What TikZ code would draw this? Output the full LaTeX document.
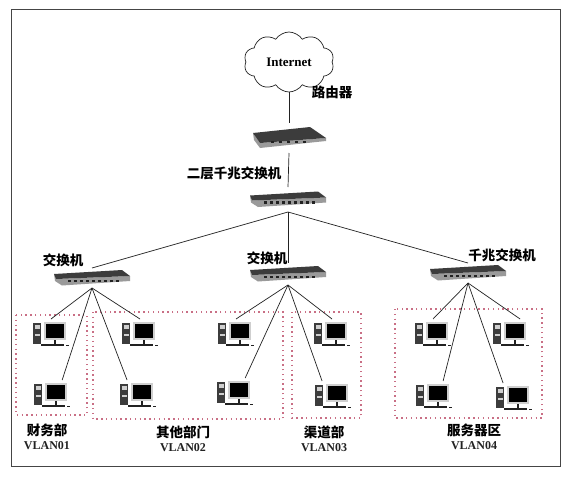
\documentclass[tikz,border=0pt]{standalone}
\usepackage{fontspec}
\usepackage{xcolor}
\usepackage{tikz}
\usetikzlibrary{positioning, shapes.symbols}
\setmainfont{Liberation Serif}
\newfontfamily\cjk{Noto Sans CJK SC}
\definecolor{nInk}{HTML}{222222}
\definecolor{nFrame}{HTML}{454545}
\definecolor{nDot}{HTML}{C96F85}
\definecolor{nTop}{HTML}{3C3C3C}
\definecolor{nFront}{HTML}{9A9A9A}
\definecolor{nBezel}{HTML}{CFCFCF}
\tikzset{
  link/.style={draw=nInk, line width=0.7pt},
  vlanbox/.style={draw=nDot, line width=1.1pt, dash pattern=on 1.4pt off 3.4pt},
  pcbox/.style={minimum width=38pt, minimum height=28pt, inner sep=0pt, outer sep=0pt},
  swbox/.style={minimum width=78pt, minimum height=20pt, inner sep=0pt, outer sep=0pt},
  cjklabel/.style={font=\cjk\bfseries\fontsize{13.5}{13.5}\selectfont, text=black, inner sep=0pt},
  vlanlabel/.style={font=\bfseries\fontsize{12}{12}\selectfont, text=nInk, inner sep=0pt},
  pcset/.pic={
    \fill[nTop] (-18,-10) rectangle (-10,11);
    \fill[nBezel] (-16.5,-8) rectangle (-11.5,-4);
    \fill[nBezel] (-16.5,1) rectangle (-11.5,3);
    \fill[nBezel] (-7,-11) rectangle (15,7);
    \fill[black] (-5,-9) rectangle (13,5);
    \fill[nInk] (3,7) rectangle (5,11);
    \fill[nInk] (-10,11) rectangle (13,12.5);
    \fill[nInk] (15,11.5) rectangle (18,13);
  },
  swset/.pic={
    \fill[nFront] (-38,-4) -- (-36,1) -- (38,-2) -- (38,3) -- (-30,7.5) -- (-37,3) -- cycle;
    \fill[nTop] (-38,-4) -- (30,-8) -- (38,-2) -- (-36,1) -- cycle;
    \foreach \x in {-24,-18,-12,-6,0,6,12,18,24}
      {\fill[nInk] (\x,1.5) rectangle (\x+3,4);}
  },
  routerset/.pic={
    \fill[nFront] (-36,-5) -- (-29,5) -- (37,0) -- (37,3) -- (-29,10) -- (-35,2) -- cycle;
    \fill[nTop] (-36,-5) -- (21,-11) -- (37,0) -- (-29,5) -- cycle;
    \foreach \x in {-18,-10,-2,6,14}
      {\fill[nInk] (\x,3) rectangle (\x+3,5);}
  }
}

\begin{document}
\begin{tikzpicture}[x=1pt, y=-1pt]
  \useasboundingbox (0,0) rectangle (569,479);
  \fill[white] (0,0) rectangle (569,479);
  \draw[draw=nFrame, line width=1pt] (11,9) rectangle (560,466);

  \draw[vlanbox] (16,315) rectangle (87,415);
  \draw[vlanbox] (93,312) rectangle (283,419);
  \draw[vlanbox] (292,312) rectangle (361,418);
  \draw[vlanbox] (395,309) rectangle (542,418);

  \node[cloud, draw=nInk, fill=white, line width=0.7pt, cloud puffs=10, cloud puff arc=115, aspect=1.5, minimum width=90pt, minimum height=60pt, inner sep=0pt, font=\bfseries\fontsize{13}{13}\selectfont] (internet) at (289,62) {Internet};

  \node[swbox, minimum height=30pt] (router) at (289,138) {};
  \pic at (router) {routerset};
  \foreach \name/\x/\y/\h in {swTop/288/199.5/25,swA/92/278/20,swB/288/274/22,swC/468/273/20}
    {\node[swbox, minimum height=\h pt] (\name) at (\x,\y) {};
     \pic at (\name) {swset};}

  \foreach \name/\x/\y in {pcA1/51/333,pcA2/52/394,pcA3/140/333,pcA4/138/394,
      pcB1/236/333,pcB2/235/392,pcB3/332/333,pcB4/333/395,
      pcC1/433/333,pcC2/434/395,pcC3/511/333,pcC4/514/397}
    {\node[pcbox] (\name) at (\x,\y) {};
     \pic at (\name) {pcset};}

  \draw[link] (internet.south) -- (router.north);
  \draw[link] (router.south) -- (swTop.north);
  \foreach \to in {swA,swB,swC}
    {\draw[link] (swTop.south) -- (\to.north);}
  \foreach \pc/\ang in {pcA1/90,pcA2/54,pcA3/90,pcA4/128}
    {\draw[link] (swA.south) -- (\pc.\ang);}
  \foreach \pc/\ang in {pcB1/90,pcB2/54,pcB3/90,pcB4/128}
    {\draw[link] (swB.south) -- (\pc.\ang);}
  \foreach \pc/\ang in {pcC1/90,pcC2/57,pcC3/57,pcC4/128}
    {\draw[link] (swC.south) -- (\pc.\ang);}

  \node[cjklabel] (lblRouter) at (332,92) {路由器};
  \node[cjklabel] (lblCore) at (234,173) {二层千兆交换机};
  \node[cjklabel] (lblSwA) at (63,260) {交换机};
  \node[cjklabel] (lblSwB) at (267,258) {交换机};
  \node[cjklabel] (lblSwC) at (502,255) {千兆交换机};
  \foreach \name/\x/\y/\txt/\vlan in {finance/47/430/财务部/VLAN01,other/183/432/其他部门/VLAN02,
      channel/324/432/渠道部/VLAN03,server/474/430/服务器区/VLAN04}
    {\node[cjklabel] (\name) at (\x,\y) {\txt};
     \node[vlanlabel, below=15.5pt of \name.center, anchor=center] (\name V) {\vlan};}
\end{tikzpicture}
\end{document}
